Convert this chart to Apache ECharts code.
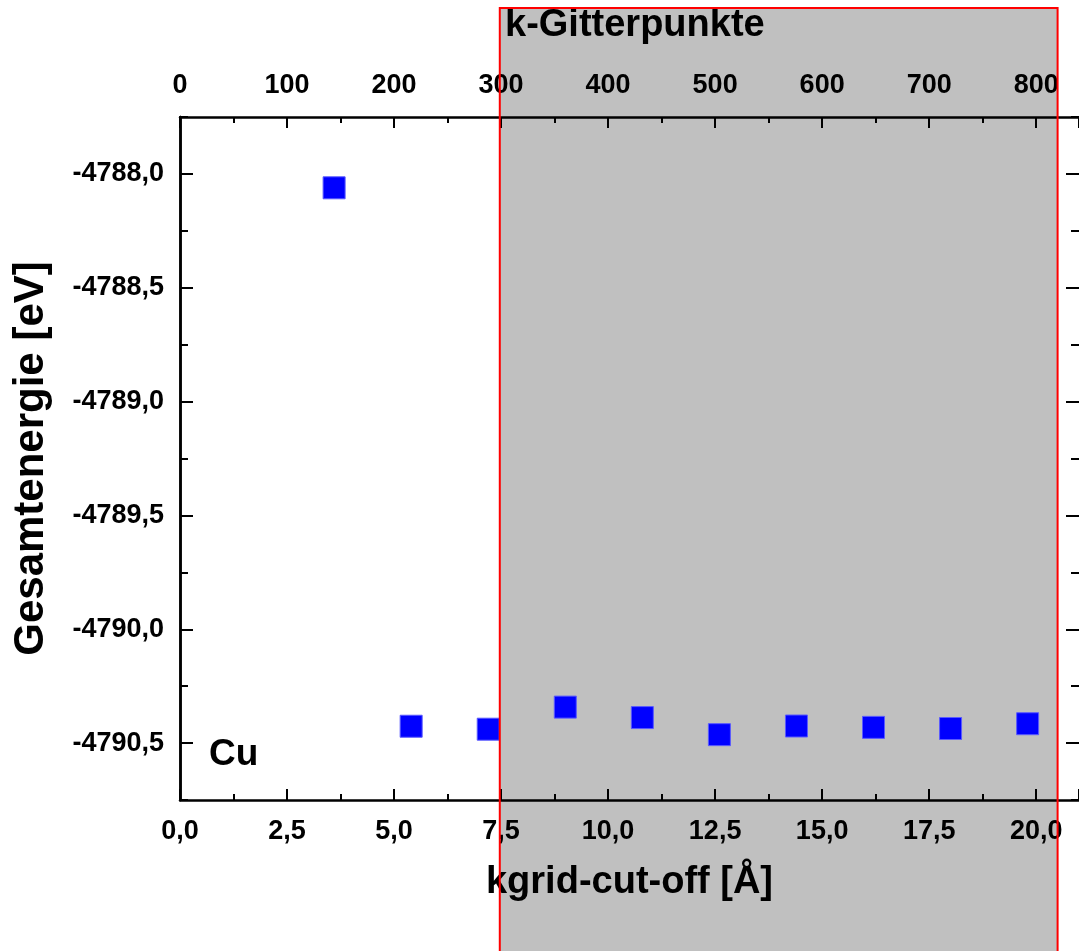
<!DOCTYPE html>
<html>
<head>
<meta charset="utf-8">
<script src="https://cdn.jsdelivr.net/npm/echarts@6/dist/echarts.min.js"></script>
<style>
  html, body { margin: 0; padding: 0; background: #fff; }
  #main { width: 1079px; height: 951px; }
</style>
</head>
<body>
<div id="main"></div>
<script>
// kgrid cut-off (bottom axis) and total energy
const cutoff = [3.6, 5.4, 7.2, 9.0, 10.8, 12.6, 14.4, 16.2, 18.0, 19.8]
const energy = [-4788.061, -4790.426, -4790.439, -4790.342, -4790.388, -4790.463, -4790.425, -4790.431, -4790.436, -4790.415]
const yMajor = [-4790.5, -4790.0, -4789.5, -4789.0, -4788.5, -4788.0]
const yMinor = [-4790.75, -4790.25, -4789.75, -4789.25, -4788.75, -4788.25, -4787.75]
// grey region on the bottom axis
const region = [7.47, 20.5]

const FONT = 'Liberation Sans'
const comma = (v, d) => v.toFixed(d).replace('.', ',')

let myChart = echarts.init(document.getElementById('main'))

const labelStyle = { color: '#000', fontFamily: FONT, fontWeight: 'bold', fontSize: 27 }
const yBase = { type: 'value', min: -4790.75, max: -4787.75, splitLine: { show: false } }
// axis that only draws ticks (inside) at given values
const tickAxis = (pos, vals, len) => ({
    ...yBase, position: pos,
    axisLine: { show: false },
    axisTick: { inside: true, length: len, customValues: vals, lineStyle: { color: '#000', width: 2 } },
    axisLabel: { show: false }
})

let option = {
    animation: false,
    backgroundColor: '#fff',
    title: {
        text: 'k-Gitterpunkte',
        left: 500, top: 2,
        textStyle: { color: '#000', fontFamily: FONT, fontWeight: 'bold', fontSize: 38 }
    },
    grid: { left: 180, top: 117, width: 901, height: 683 },
    xAxis: [{
        type: 'value', position: 'bottom', min: 0, max: 21, interval: 2.5,
        name: 'kgrid-cut-off [Å]', nameLocation: 'middle', nameGap: 64,
        nameTextStyle: { color: '#000', fontFamily: FONT, fontWeight: 'bold', fontSize: 38 },
        axisLine: { lineStyle: { color: '#000', width: 2.5 } },
        axisTick: { inside: true, length: 11, lineStyle: { color: '#000', width: 2 } },
        minorTick: { show: true, splitNumber: 2, length: 6, lineStyle: { color: '#000', width: 2 } },
        axisLabel: { ...labelStyle, margin: 18, showMaxLabel: false, formatter: v => comma(v, 1) },
        splitLine: { show: false }
    }, {
        type: 'value', position: 'top', min: 0, max: 840, interval: 100,
        axisLine: { lineStyle: { color: '#000', width: 2.5 } },
        axisTick: { inside: true, length: 11, lineStyle: { color: '#000', width: 2 } },
        minorTick: { show: true, splitNumber: 2, length: 6, lineStyle: { color: '#000', width: 2 } },
        axisLabel: { ...labelStyle, margin: 18, showMaxLabel: false },
        splitLine: { show: false }
    }],
    yAxis: [{
        ...yBase, position: 'left',
        name: 'Gesamtenergie [eV]', nameLocation: 'middle', nameGap: 128,
        nameTextStyle: { color: '#000', fontFamily: FONT, fontWeight: 'bold', fontSize: 42 },
        axisLine: { lineStyle: { color: '#000', width: 2.5 } },
        axisTick: { show: false },
        axisLabel: { ...labelStyle, margin: 16, customValues: yMajor, formatter: v => comma(v, 1) }
    }, {
        ...yBase, position: 'right',
        axisLine: { show: true, lineStyle: { color: '#000', width: 2.5 } },
        axisTick: { show: false },
        axisLabel: { show: false }
    },
        tickAxis('left', yMajor, 13),
        tickAxis('left', yMinor, 8),
        tickAxis('right', yMajor, 13),
        tickAxis('right', yMinor, 8)
    ],
    series: [{
        type: 'scatter',
        symbol: 'rect',
        symbolSize: 22,
        clip: false,
        itemStyle: { color: '#0000ff', borderColor: '#5a5aff', borderWidth: 1, opacity: 1 },
        data: cutoff.map((x, i) => [x, energy[i]]),
        z: 5
    }]
}
myChart.setOption(option)

// grey region + Cu label, placed through the axis scales
const x0 = myChart.convertToPixel({ xAxisIndex: 0 }, region[0])
const x1 = myChart.convertToPixel({ xAxisIndex: 0 }, region[1])
const cuPos = myChart.convertToPixel({ xAxisIndex: 0, yAxisIndex: 0 }, [0.68, -4790.55])
myChart.setOption({
    graphic: [{
        type: 'rect', z: -10,
        shape: { x: x0, y: 8, width: x1 - x0, height: 960 },
        style: { fill: '#c0c0c0' }
    }, {
        type: 'rect', z: 100, silent: true,
        shape: { x: x0, y: 8, width: x1 - x0, height: 960 },
        style: { fill: 'none', stroke: '#ff0000', lineWidth: 2 }
    }, {
        type: 'text', z: 50,
        x: cuPos[0], y: cuPos[1],
        style: { text: 'Cu', fill: '#000', font: 'bold 37px "Liberation Sans"', textVerticalAlign: 'middle' }
    }]
})
</script>
</body>
</html>
